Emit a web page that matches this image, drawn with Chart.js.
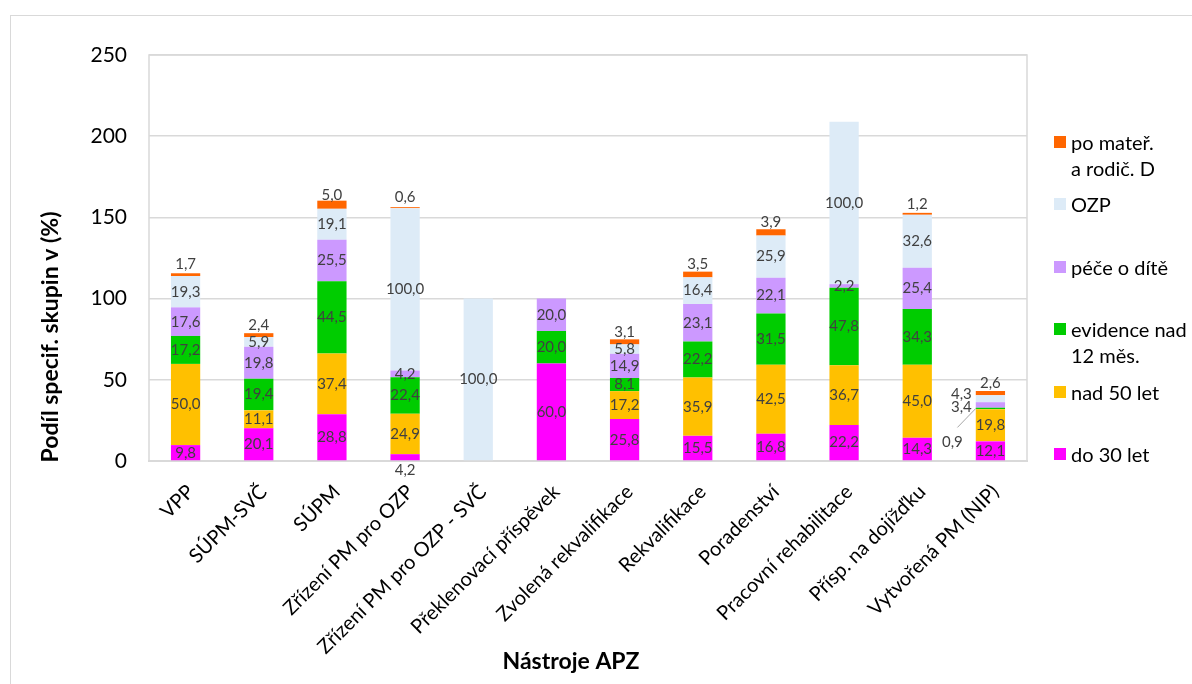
<!DOCTYPE html>
<html lang="cs">
<head>
  <meta charset="UTF-8">
  <title>Podíl specifických skupin v nástrojích APZ</title>
  <script src="https://cdn.jsdelivr.net/npm/chart.js"></script>
  <style>
    body {
      margin: 0;
      background: #ffffff;
      font-family: Lato, sans-serif;
      overflow: hidden;
    }
    #frame {
      position: absolute;
      left: 10px;
      top: 15px;
      width: 1200px;
      height: 700px;
      border: 1px solid #d9d9d9;
    }
    #chart {
      position: absolute;
      left: 0;
      top: 0;
    }
    #legend {
      position: absolute;
      left: 1054px;
      top: 0;
    }
    .item {
      position: absolute;
      left: 0;
      font-size: 20px;
      line-height: 26px;
      color: #000;
      white-space: nowrap;
    }
    .box {
      position: absolute;
      left: 0;
      top: 7px;
      width: 12px;
      height: 12px;
    }
    .txt {
      margin-left: 17px;
    }
  </style>
</head>
<body>
  <div id="frame"></div>
  <canvas id="chart" width="1192" height="684"></canvas>
  <div id="legend"></div>

  <script>
    // categories (nástroje APZ)
    const categories = [
      "VPP", "SÚPM-SVČ", "SÚPM", "Zřízení PM pro OZP", "Zřízení PM pro OZP - SVČ",
      "Překlenovací příspěvek", "Zvolená rekvalifikace", "Rekvalifikace", "Poradenství",
      "Pracovní rehabilitace", "Přísp. na dojížďku", "Vytvořená PM (NIP)"
    ];

    // series, bottom of the stack first
    const seriesNames = ["do 30 let", "nad 50 let", "evidence nad\n12 měs.", "péče o dítě", "OZP", "po mateř.\na rodič. D"];
    const seriesColors = ["#ff00ff", "#ffc000", "#00cc00", "#cc99ff", "#ddebf7", "#ff6600"];

    const do30 =      [9.8, 20.1, 28.8, 4.2, 0, 60.0, 25.8, 15.5, 16.8, 22.2, 14.3, 12.1];
    const nad50 =     [50.0, 11.1, 37.4, 24.9, 0, 0, 17.2, 35.9, 42.5, 36.7, 45.0, 19.8];
    const evidence =  [17.2, 19.4, 44.5, 22.4, 0, 20.0, 8.1, 22.2, 31.5, 47.8, 34.3, 0.9];
    const pece =      [17.6, 19.8, 25.5, 4.2, 0, 20.0, 14.9, 23.1, 22.1, 2.2, 25.4, 3.4];
    const ozp =       [19.3, 5.9, 19.1, 100.0, 100.0, 0, 5.8, 16.4, 25.9, 100.0, 32.6, 4.3];
    const materska =  [1.7, 2.4, 5.0, 0.6, 0, 0, 3.1, 3.5, 3.9, 0, 1.2, 2.6];
    const seriesValues = [do30, nad50, evidence, pece, ozp, materska];

    const yTicks = [0, 50, 100, 150, 200, 250];

    // label nudges for the crowded segments, keyed "series:category"
    const labelNudges = {
      "0:3":  { base: 10 },
      "4:11": { left: true, dy: -5 },
      "3:11": { left: true, dy: 2 },
      "2:11": { dx: -38, dy: 34, leader: true }
    };

    Chart.defaults.font.family = "Lato, sans-serif";
    Chart.defaults.color = "#000";

    const fmt = v => v.toFixed(1).replace(".", ",");

    const plotFrame = {
      id: "plotFrame",
      beforeDatasetsDraw(chart) {
        const { ctx, chartArea: a } = chart;
        ctx.save();
        ctx.strokeStyle = "#d9d9d9";
        ctx.lineWidth = 1.5;
        ctx.strokeRect(a.left, a.top, a.right - a.left, a.bottom - a.top);
        ctx.restore();
      }
    };

    const valueLabels = {
      id: "valueLabels",
      afterDatasetsDraw(chart) {
        const ctx = chart.ctx;
        ctx.save();
        ctx.font = "15px Lato, sans-serif";
        ctx.fillStyle = "#404040";
        ctx.textBaseline = "middle";
        chart.data.datasets.forEach((ds, i) => {
          chart.getDatasetMeta(i).data.forEach((bar, j) => {
            const v = ds.data[j];
            if (!v) return;
            let x = bar.x;
            let y = (bar.y + bar.base) / 2;
            let align = "center";
            if (i === seriesNames.length - 1) y -= 10;
            const n = labelNudges[i + ":" + j];
            if (n) {
              if (n.base) y = bar.base + n.base;
              if (n.left) { x = bar.x - bar.width / 2 - 4; align = "right"; }
              if (n.dx) x += n.dx;
              if (n.dy) y += n.dy;
              if (n.leader) {
                ctx.strokeStyle = "#a6a6a6";
                ctx.lineWidth = 1;
                ctx.beginPath();
                ctx.moveTo(x + 5, y - 15);
                ctx.lineTo(bar.x - bar.width / 2, (bar.y + bar.base) / 2);
                ctx.stroke();
              }
            }
            ctx.textAlign = align;
            ctx.fillText(fmt(v), x, y);
          });
        });
        ctx.restore();
      }
    };

    const axisTitles = {
      id: "axisTitles",
      afterDraw(chart) {
        const ctx = chart.ctx;
        ctx.save();
        ctx.font = "bold 23px Lato, sans-serif";
        ctx.fillStyle = "#000";
        ctx.textAlign = "center";
        ctx.textBaseline = "middle";
        ctx.fillText("Nástroje APZ", 571, 662);
        ctx.translate(51, 337);
        ctx.rotate(-Math.PI / 2);
        ctx.fillText("Podíl specif. skupin v (%)", 0, 0);
        ctx.restore();
      }
    };

    new Chart(document.getElementById("chart"), {
      type: "bar",
      data: {
        labels: categories,
        datasets: seriesNames.map((name, i) => ({
          label: name,
          data: seriesValues[i],
          backgroundColor: seriesColors[i],
          borderWidth: 0,
          barPercentage: 0.4,
          categoryPercentage: 1.0
        }))
      },
      options: {
        responsive: false,
        animation: false,
        layout: { padding: { left: 0, top: 55, right: 165, bottom: 0 } },
        plugins: {
          legend: { display: false },
          tooltip: { enabled: false }
        },
        scales: {
          x: {
            stacked: true,
            grid: { display: false, drawTicks: false },
            border: { display: true, color: "#d9d9d9", width: 2 },
            ticks: {
              autoSkip: false,
              minRotation: 45,
              maxRotation: 45,
              padding: 19,
              labelOffset: 5,
              font: { size: 20 }
            },
            afterFit: s => { s.height = 223; }
          },
          y: {
            stacked: true,
            min: 0,
            max: 250,
            afterBuildTicks: s => { s.ticks = yTicks.map(v => ({ value: v })); },
            grid: { color: "#d9d9d9", lineWidth: 1.5, drawTicks: false },
            border: { display: false },
            ticks: { padding: 22, font: { size: 21 } },
            afterFit: s => { s.width = 149; }
          }
        }
      },
      plugins: [plotFrame, valueLabels, axisTitles]
    });

    // legend on the right, top entry = top of the stack
    const legend = document.getElementById("legend");
    seriesNames.slice().reverse().forEach((name, k) => {
      const i = seriesNames.length - 1 - k;
      const item = document.createElement("div");
      item.className = "item";
      item.style.top = (129 + k * 62.4) + "px";
      const box = document.createElement("span");
      box.className = "box";
      box.style.background = seriesColors[i];
      const txt = document.createElement("div");
      txt.className = "txt";
      txt.innerText = name;
      item.appendChild(box);
      item.appendChild(txt);
      legend.appendChild(item);
    });
  </script>
</body>
</html>
